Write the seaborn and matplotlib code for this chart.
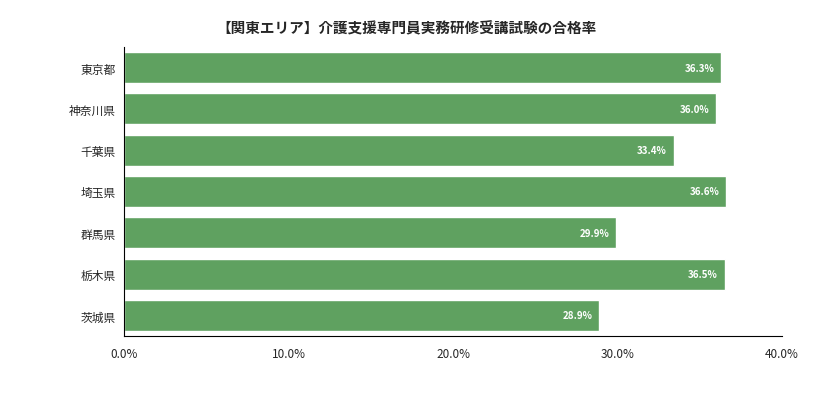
import matplotlib
matplotlib.use('Agg')
import matplotlib.pyplot as plt
import seaborn as sns
import pandas as pd

prefectures = ['東京都', '神奈川県', '千葉県', '埼玉県', '群馬県', '栃木県', '茨城県']
pass_rates = [36.3, 36.0, 33.4, 36.6, 29.9, 36.5, 28.9]
x_ticks = [0, 10, 20, 30, 40]

df = pd.DataFrame({'pref': prefectures, 'rate': pass_rates})

sns.set_style('white')
plt.rcParams['font.family'] = ['Noto Sans CJK JP', 'DejaVu Sans']

fig = plt.figure(figsize=(8.13, 4.1), dpi=100)
ax = fig.add_axes([0.1525, 0.178, 0.8095, 0.705])
sns.barplot(data=df, x='rate', y='pref', color='#5fa160', saturation=1, width=0.75, ax=ax)

for i, v in enumerate(pass_rates):
    ax.text(v - 0.4, i, f'{v:.1f}%', ha='right', va='center', color='white',
            fontsize=7, fontweight='bold')

ax.set_xlim(0, 40)
ax.set_xticks(x_ticks)
ax.set_xticklabels([f'{t:.1f}%' for t in x_ticks], fontsize=8.5)
ax.tick_params(axis='y', labelsize=8.5, length=0, pad=6)
ax.tick_params(axis='x', length=0, pad=8)
ax.set_xlabel('')
ax.set_ylabel('')
for s in ['top', 'right']:
    ax.spines[s].set_visible(False)
for s in ['left', 'bottom']:
    ax.spines[s].set_color('black')
    ax.spines[s].set_linewidth(0.8)

fig.text(0.5, 0.93, '【関東エリア】介護支援専門員実務研修受講試験の合格率',
         ha='center', va='center', fontsize=10.5, fontweight='bold')

fig.savefig('out.png', dpi=100)
plt.close()
